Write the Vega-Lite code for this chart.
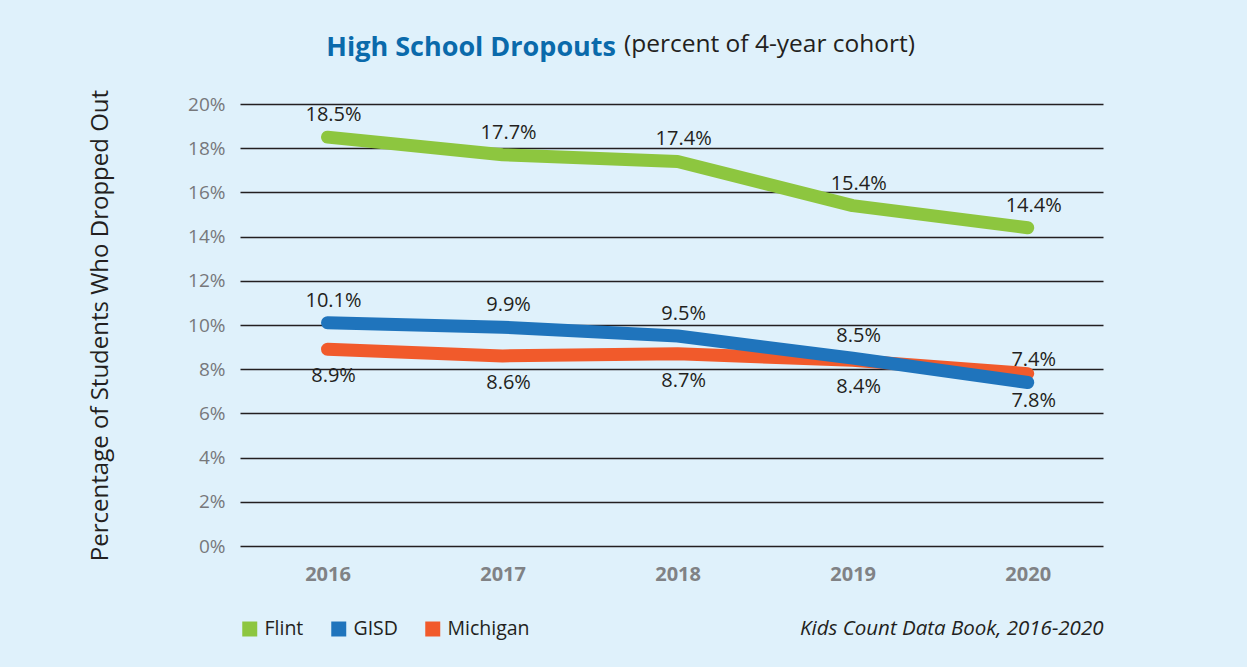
{
  "$schema": "https://vega.github.io/schema/vega-lite/v6.json",
  "width": 863,
  "height": 442,
  "autosize": {"type": "none"},
  "padding": {"left": 240, "top": 104, "right": 144, "bottom": 121},
  "background": "#dff1fb",
  "config": {"view": {"stroke": null}, "font": "Open Sans"},
  "title": {
    "text": "High School Dropouts",
    "subtitle": "(percent of 4-year cohort)",
    "anchor": "start",
    "frame": "group",
    "dx": 384,
    "font": "Open Sans",
    "fontSize": 27,
    "fontWeight": "bold",
    "color": "#0a6aab",
    "subtitleFont": "Open Sans",
    "subtitleFontSize": 24.5,
    "subtitleColor": "#231f20",
    "subtitlePadding": -29,
    "offset": 25,
    "encoding": {"align": {"value": "right"}, "dx": {"value": 376}}
  },
  "data": {
    "values": [
      {"series": "Flint", "year": 2016, "pct": 0.185},
      {"series": "Flint", "year": 2017, "pct": 0.177},
      {"series": "Flint", "year": 2018, "pct": 0.174},
      {"series": "Flint", "year": 2019, "pct": 0.154},
      {"series": "Flint", "year": 2020, "pct": 0.144},
      {"series": "Michigan", "year": 2016, "pct": 0.089},
      {"series": "Michigan", "year": 2017, "pct": 0.086},
      {"series": "Michigan", "year": 2018, "pct": 0.087},
      {"series": "Michigan", "year": 2019, "pct": 0.084},
      {"series": "Michigan", "year": 2020, "pct": 0.078},
      {"series": "GISD", "year": 2016, "pct": 0.101},
      {"series": "GISD", "year": 2017, "pct": 0.099},
      {"series": "GISD", "year": 2018, "pct": 0.095},
      {"series": "GISD", "year": 2019, "pct": 0.085},
      {"series": "GISD", "year": 2020, "pct": 0.074}
    ]
  },
  "encoding": {
    "x": {
      "field": "year",
      "type": "quantitative",
      "scale": {"domain": [2015.5, 2020.43], "nice": false, "zero": false},
      "axis": {
        "values": [2016, 2017, 2018, 2019, 2020],
        "format": "d",
        "grid": false,
        "domain": false,
        "ticks": false,
        "labelFont": "Open Sans",
        "labelFontSize": 20,
        "labelFontWeight": "bold",
        "labelColor": "#808285",
        "labelPadding": 18,
        "title": "Kids Count Data Book, 2016-2020",
        "titleFont": "Open Sans",
        "titleFontStyle": "italic",
        "titleFontWeight": "normal",
        "titleFontSize": 20.5,
        "titleColor": "#231f20",
        "titleAnchor": "end",
        "titlePadding": 34
      }
    },
    "y": {
      "field": "pct",
      "type": "quantitative",
      "scale": {"domain": [0, 0.2], "nice": false},
      "axis": {
        "values": [0, 0.02, 0.04, 0.06, 0.08, 0.1, 0.12, 0.14, 0.16, 0.18, 0.2],
        "format": ".0%",
        "domain": false,
        "ticks": false,
        "gridColor": "#231f20",
        "gridWidth": 1.5,
        "gridOpacity": 1,
        "labelFont": "Open Sans",
        "labelFontSize": 19,
        "labelColor": "#77787b",
        "labelPadding": 15,
        "title": "Percentage of Students Who Dropped Out",
        "titleFont": "Open Sans",
        "titleFontSize": 24,
        "titleFontWeight": "normal",
        "titleColor": "#231f20",
        "titlePadding": 75
      }
    }
  },
  "layer": [
    {
      "mark": {"type": "line", "strokeWidth": 13, "strokeCap": "round", "strokeJoin": "round"},
      "encoding": {
        "color": {
          "field": "series",
          "type": "nominal",
          "sort": ["Flint", "GISD", "Michigan"],
          "scale": {"domain": ["Flint", "GISD", "Michigan"], "range": ["#8dc63f", "#1f74bc", "#f15a2b"]},
          "legend": {
            "title": null,
            "orient": "bottom",
            "direction": "horizontal",
            "symbolType": "square",
            "symbolSize": 56,
            "symbolStrokeWidth": 7.5,
            "labelFont": "Open Sans",
            "labelFontSize": 19.5,
            "labelColor": "#231f20",
            "labelOffset": 5,
            "columnPadding": 16,
            "offset": -20
          }
        }
      }
    },
    {
      "transform": [{"filter": "datum.series !== 'Michigan'"}],
      "mark": {"type": "text", "dy": -22, "dx": 6, "fontSize": 20, "font": "Open Sans", "color": "#231f20"},
      "encoding": {"text": {"field": "pct", "type": "quantitative", "format": ".1%"}}
    },
    {
      "transform": [{"filter": "datum.series === 'Michigan'"}],
      "mark": {"type": "text", "dy": 27, "dx": 6, "fontSize": 20, "font": "Open Sans", "color": "#231f20"},
      "encoding": {"text": {"field": "pct", "type": "quantitative", "format": ".1%"}}
    }
  ]
}
